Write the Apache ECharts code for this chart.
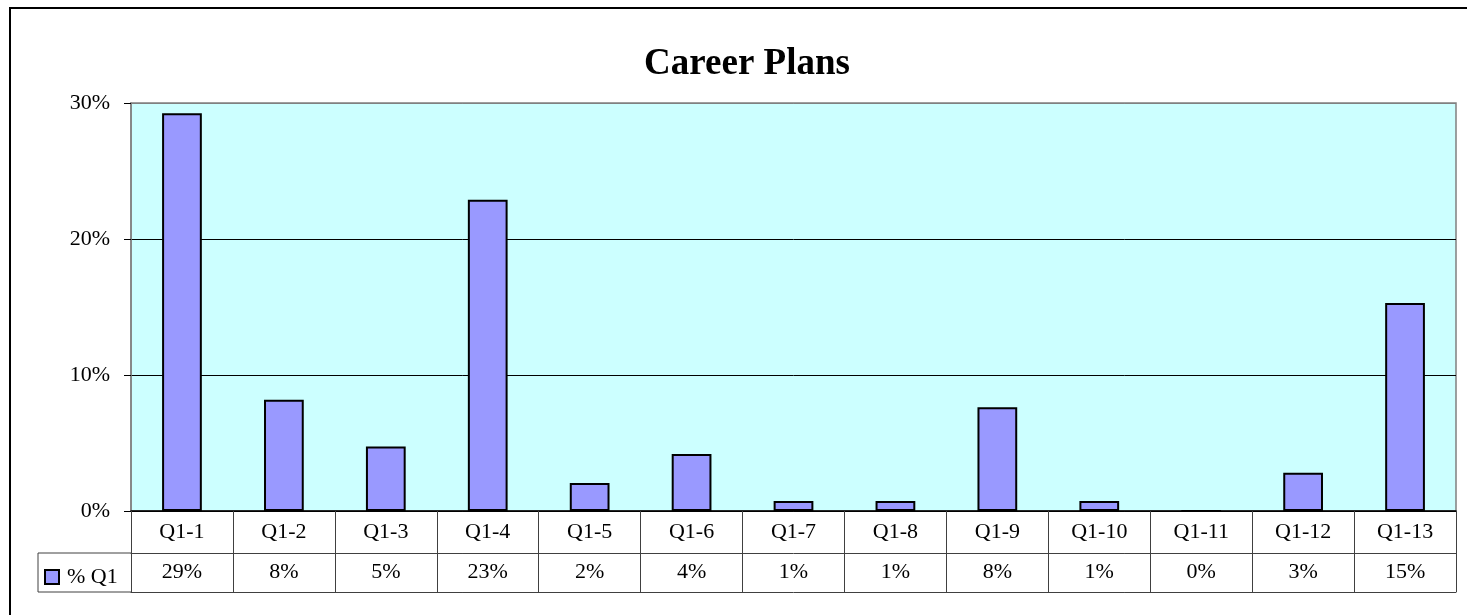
<!DOCTYPE html>
<html>
<head>
<meta charset="utf-8">
<title>Career Plans</title>
<script src="https://cdn.jsdelivr.net/npm/echarts@6/dist/echarts.min.js"></script>
<style>
	html, body { margin: 0; padding: 0; background: #fff; }
	#chart { width: 1467px; height: 615px; }
</style>
</head>
<body>
<div id="chart"></div>
<script>
// data
var categories = ['Q1-1', 'Q1-2', 'Q1-3', 'Q1-4', 'Q1-5', 'Q1-6', 'Q1-7', 'Q1-8', 'Q1-9', 'Q1-10', 'Q1-11', 'Q1-12', 'Q1-13'];
var pctQ1 = [29.24, 8.18, 4.75, 22.89, 2.06, 4.19, 0.73, 0.73, 7.62, 0.73, 0, 2.82, 15.29];
var yTicks = [0, 10, 20, 30];
var seriesName = '% Q1';

var serif = "'Liberation Serif', 'Times New Roman', serif";
var lineCol = '#404040';

var chart = echarts.init(document.getElementById('chart'));

var option = {
	animation: false,
	backgroundColor: '#fff',
	title: {
		text: 'Career Plans',
		left: 742,
		top: 41,
		textAlign: 'center',
		textStyle: {
			fontFamily: serif,
			fontSize: 37,
			fontWeight: 'bold',
			color: '#000'
		}
	},
	legend: {
		data: [seriesName],
		left: 39,
		top: 561,
		icon: 'rect',
		itemWidth: 14,
		itemHeight: 14,
		itemGap: 6,
		textStyle: {
			fontFamily: serif,
			fontSize: 22,
			color: '#000',
			padding: [0, 0, 0, 3]
		}
	},
	grid: {
		left: 131,
		right: 11,
		top: 103,
		bottom: 104,
		show: true,
		backgroundColor: '#CCFFFF',
		borderColor: '#808080',
		borderWidth: 1.5
	},
	xAxis: [{
		// category row of the data table
		type: 'category',
		data: categories,
		position: 'bottom',
		axisLine: { lineStyle: { color: '#000', width: 1.5 } },
		axisTick: {
			show: true,
			interval: 0,
			length: 81,
			lineStyle: { color: lineCol, width: 1 }
		},
		axisLabel: {
			interval: 0,
			margin: 10,
			fontFamily: serif,
			fontSize: 22,
			color: '#000'
		},
		splitLine: { show: false }
	}, {
		// value row
		type: 'category',
		data: categories,
		position: 'bottom',
		offset: 42,
		axisLine: { lineStyle: { color: lineCol, width: 1 } },
		axisTick: { show: false },
		axisLabel: {
			interval: 0,
			margin: 8,
			fontFamily: serif,
			fontSize: 22,
			color: '#000',
			formatter: function(v, i) {
				return Math.round(pctQ1[i]) + '%';
			}
		}
	}, {
		// bottom edge of the table
		type: 'category',
		data: categories,
		position: 'bottom',
		offset: 81,
		axisLine: { lineStyle: { color: lineCol, width: 1 } },
		axisTick: { show: false },
		axisLabel: { show: false }
	}],
	yAxis: {
		type: 'value',
		min: yTicks[0],
		max: yTicks[yTicks.length - 1],
		interval: yTicks[1] - yTicks[0],
		axisLine: { show: true, lineStyle: { color: '#808080', width: 1.5 } },
		axisTick: { show: true, length: 7, lineStyle: { color: '#000' } },
		axisLabel: {
			margin: 21,
			fontFamily: serif,
			fontSize: 22,
			color: '#000',
			formatter: '{value}%'
		},
		splitLine: {
			show: true,
			lineStyle: { color: ['#000', '#000', '#000', '#808080'], width: 1 }
		}
	},
	series: [{
		name: seriesName,
		type: 'bar',
		data: pctQ1,
		barWidth: '39%',
		itemStyle: {
			color: '#9999FF',
			borderColor: '#000',
			borderWidth: 2
		}
	}],
	graphic: [{
		// outer chart frame
		type: 'rect',
		shape: { x: 10, y: 8, width: 1500, height: 700 },
		style: { fill: null, stroke: '#000', lineWidth: 2 },
		silent: true
	}, {
		// legend cell of the data table
		type: 'polyline',
		shape: { points: [[131, 553], [38, 553], [38, 592], [131, 592]] },
		style: { fill: null, stroke: lineCol, lineWidth: 1 },
		silent: true
	}]
};

chart.setOption(option);
</script>
</body>
</html>
